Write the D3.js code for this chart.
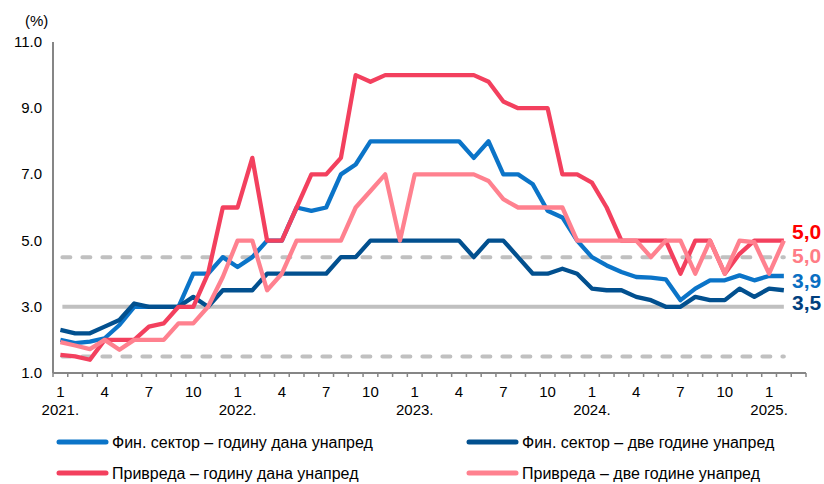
<!DOCTYPE html>
<html>
<head>
<meta charset="utf-8">
<script src="https://cdn.jsdelivr.net/npm/d3@7"></script>
<style>
    body { margin: 0; background: #fff; }
    text { font-family: "Liberation Sans", Arial, sans-serif; fill: #000; }
</style>
</head>
<body>
<div id="chart"></div>
<script>
///////////////////////////////////////////////////////////////////////////
//////////////////////////////// Data /////////////////////////////////////
///////////////////////////////////////////////////////////////////////////

// months Jan 2021 .. Feb 2025 (one empty category at the end, like the original)
var years = [2021, 2022, 2023, 2024, 2025];
var monthLabels = ["1", "4", "7", "10"];
var yTicks = [1, 3, 5, 7, 9, 11];

var finOneYear = [2.0, 1.9, 1.95, 2.05, 2.45, 3.0, 3.0, 3.0, 3.0, 4.0, 4.0, 4.5,
    4.2, 4.5, 5.0, 5.0, 6.0, 5.9, 6.0, 7.0, 7.3, 8.0, 8.0, 8.0,
    8.0, 8.0, 8.0, 8.0, 7.5, 8.0, 7.0, 7.0, 6.7, 5.9, 5.7, 5.0,
    4.5, 4.25, 4.05, 3.9, 3.88, 3.83, 3.2, 3.55, 3.8, 3.8, 3.95, 3.8,
    3.93, 3.93];

var finTwoYears = [2.3, 2.2, 2.2, 2.4, 2.6, 3.1, 3.0, 3.0, 3.0, 3.3, 3.0, 3.5,
    3.5, 3.5, 4.0, 4.0, 4.0, 4.0, 4.0, 4.5, 4.5, 5.0, 5.0, 5.0,
    5.0, 5.0, 5.0, 5.0, 4.5, 5.0, 5.0, 4.5, 4.0, 4.0, 4.15, 4.0,
    3.55, 3.5, 3.5, 3.3, 3.2, 3.0, 3.0, 3.3, 3.2, 3.2, 3.55, 3.3,
    3.55, 3.5];

var firmsOneYear = [1.55, 1.5, 1.4, 2.0, 2.0, 2.0, 2.4, 2.5, 3.0, 3.0, 4.0, 6.0,
    6.0, 7.5, 5.0, 5.0, 6.0, 7.0, 7.0, 7.5, 10.0, 9.8, 10.0, 10.0,
    10.0, 10.0, 10.0, 10.0, 10.0, 9.8, 9.2, 9.0, 9.0, 9.0, 7.0, 7.0,
    6.75, 6.0, 5.0, 5.0, 5.0, 5.0, 4.0, 5.0, 5.0, 4.0, 4.6, 5.0,
    5.0, 5.0];

var firmsTwoYears = [1.93, 1.83, 1.72, 2.0, 1.7, 2.0, 2.0, 2.0, 2.5, 2.5, 3.0, 3.9,
    5.0, 5.0, 3.5, 4.0, 5.0, 5.0, 5.0, 5.0, 6.0, 6.5, 7.0, 5.0,
    7.0, 7.0, 7.0, 7.0, 7.0, 6.8, 6.25, 6.0, 6.0, 6.0, 6.0, 5.0,
    5.0, 5.0, 5.0, 5.0, 4.5, 5.0, 5.0, 4.0, 5.0, 4.0, 5.0, 4.95,
    4.0, 5.0];

// inflation target and tolerance band
var target = 3.0, bandLow = 1.5, bandHigh = 4.5;

var seriesNames = [
    "Фин. сектор – годину дана унапред",
    "Фин. сектор – две године унапред",
    "Привреда – годину дана унапред",
    "Привреда – две године унапред"
];

///////////////////////////////////////////////////////////////////////////
//////////////////// Set up and initiate svg containers ///////////////////
///////////////////////////////////////////////////////////////////////////

var width = 824,
    height = 484;

var svg = d3.select("#chart")
    .append("svg")
    .attr("width", width)
    .attr("height", height);

var nData = finOneYear.length;
var categories = d3.range(nData + 1); // extra empty slot on the right

var x = d3.scaleBand()
    .domain(categories)
    .range([53, 806]);

var y = d3.scaleLinear()
    .domain([1, 11])
    .range([373, 42]);

function cx(i) { return x(i) + x.bandwidth() / 2; }

///////////////////////////////////////////////////////////////////////////
///////////////////////////////// Axes ////////////////////////////////////
///////////////////////////////////////////////////////////////////////////

//y axis
svg.append("line")
    .attr("x1", 53).attr("x2", 53)
    .attr("y1", y(11)).attr("y2", y(1))
    .style("stroke", "#868686")
    .style("stroke-width", 2);

svg.selectAll(".yLabel")
    .data(yTicks)
    .enter().append("text")
    .attr("class", "yLabel")
    .attr("x", 42)
    .attr("y", function(d) { return y(d) + 5; })
    .attr("text-anchor", "end")
    .style("font-size", "15px")
    .text(function(d) { return d.toFixed(1); });

svg.append("text")
    .attr("x", 25)
    .attr("y", 26)
    .style("font-size", "15px")
    .text("(%)");

//x axis, tick marks sit between the months
svg.append("line")
    .attr("x1", 53).attr("x2", 806)
    .attr("y1", y(1)).attr("y2", y(1))
    .style("stroke", "#868686")
    .style("stroke-width", 2);

svg.selectAll(".xTick")
    .data(categories.concat([nData + 1]))
    .enter().append("line")
    .attr("class", "xTick")
    .attr("x1", function(d) { return d <= nData ? x(d) : 806; })
    .attr("x2", function(d) { return d <= nData ? x(d) : 806; })
    .attr("y1", y(1))
    .attr("y2", y(1) + 4)
    .style("stroke", "#868686")
    .style("stroke-width", 1.5);

var monthTicks = categories.filter(function(i) { return i < nData && i % 3 === 0; });

svg.selectAll(".xLabel")
    .data(monthTicks)
    .enter().append("text")
    .attr("class", "xLabel")
    .attr("x", function(i) { return cx(i); })
    .attr("y", 397)
    .attr("text-anchor", "middle")
    .style("font-size", "15px")
    .text(function(i) { return monthLabels[(i % 12) / 3]; });

svg.selectAll(".yearLabel")
    .data(years)
    .enter().append("text")
    .attr("class", "yearLabel")
    .attr("x", function(d, k) { return cx(k * 12); })
    .attr("y", 415)
    .attr("text-anchor", "middle")
    .style("font-size", "15px")
    .text(function(d) { return d + "."; });

///////////////////////////////////////////////////////////////////////////
////////////////////////////// Target band ////////////////////////////////
///////////////////////////////////////////////////////////////////////////

var refLines = [
    {v: target, dash: null},
    {v: bandHigh, dash: "8,12"},
    {v: bandLow, dash: "8,12"}
];

svg.selectAll(".refLine")
    .data(refLines)
    .enter().append("line")
    .attr("class", "refLine")
    .attr("x1", cx(0) + 2)
    .attr("x2", cx(nData - 1))
    .attr("y1", function(d) { return y(d.v); })
    .attr("y2", function(d) { return y(d.v); })
    .style("stroke", "#c0c0c0")
    .style("stroke-width", 4)
    .style("stroke-linecap", function(d) { return d.dash ? "round" : "butt"; })
    .style("stroke-dasharray", function(d) { return d.dash; });

///////////////////////////////////////////////////////////////////////////
//////////////////////////////// Lines ////////////////////////////////////
///////////////////////////////////////////////////////////////////////////

var series = [
    {name: seriesNames[0], values: finOneYear, color: "#0B74C8", labelColor: "#0A6FC2"},
    {name: seriesNames[1], values: finTwoYears, color: "#02508F", labelColor: "#003F7E"},
    {name: seriesNames[2], values: firmsOneYear, color: "#F3405E", labelColor: "#FF0000"},
    {name: seriesNames[3], values: firmsTwoYears, color: "#FF818F", labelColor: "#FF7C86"}
];

var line = d3.line()
    .x(function(d, i) { return cx(i); })
    .y(function(d) { return y(d); });

svg.selectAll(".seriesLine")
    .data(series)
    .enter().append("path")
    .attr("class", "seriesLine")
    .attr("d", function(d) { return line(d.values); })
    .style("fill", "none")
    .style("stroke", function(d) { return d.color; })
    .style("stroke-width", 4.3)
    .style("stroke-linejoin", "round");

//last values at the right end
var endLabelY = [288, 310, 239, 263];

svg.selectAll(".endLabel")
    .data(series)
    .enter().append("text")
    .attr("class", "endLabel")
    .attr("x", 792)
    .attr("y", function(d, i) { return endLabelY[i]; })
    .style("font-size", "21px")
    .style("font-weight", "bold")
    .style("fill", function(d) { return d.labelColor; })
    .text(function(d) { return d.values[d.values.length - 1].toFixed(1).replace(".", ","); });

///////////////////////////////////////////////////////////////////////////
//////////////////////////////// Legend ///////////////////////////////////
///////////////////////////////////////////////////////////////////////////

var legendPos = [[57, 442], [467, 442], [57, 473], [467, 473]];

var legend = svg.selectAll(".legendItem")
    .data(series)
    .enter().append("g")
    .attr("class", "legendItem")
    .attr("transform", function(d, i) { return "translate(" + legendPos[i][0] + "," + legendPos[i][1] + ")"; });

legend.append("line")
    .attr("x1", 2).attr("x2", 49)
    .attr("y1", 0).attr("y2", 0)
    .style("stroke", function(d) { return d.color; })
    .style("stroke-width", 5)
    .style("stroke-linecap", "round");

legend.append("text")
    .attr("x", 55)
    .attr("y", 6)
    .style("font-size", "16px")
    .text(function(d) { return d.name; });
</script>
</body>
</html>
